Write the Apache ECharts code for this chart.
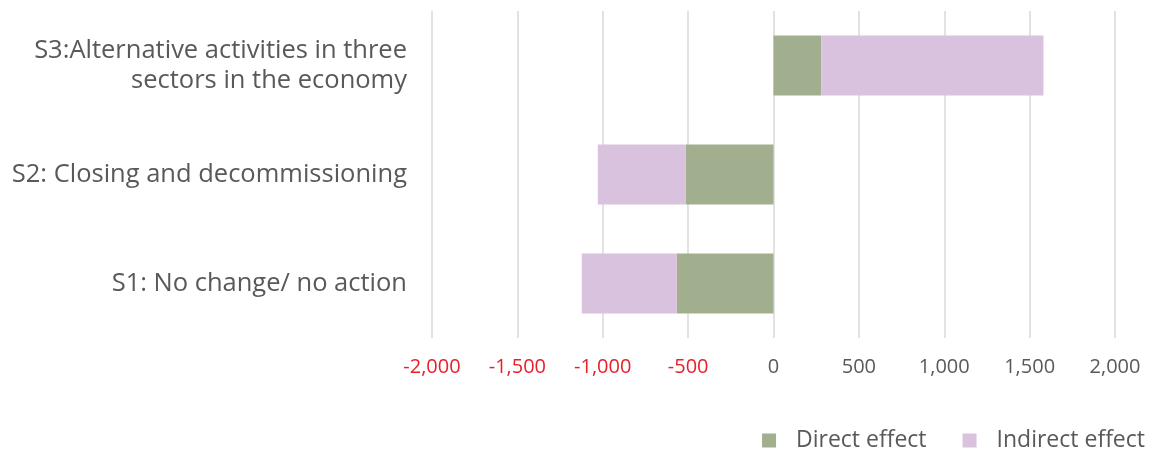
<!DOCTYPE html>
<html><head><meta charset="utf-8">
<script src="https://cdn.jsdelivr.net/npm/echarts@6/dist/echarts.min.js"></script>
<style>html,body{margin:0;padding:0;background:#fff}#c{width:1153px;height:450px}</style>
</head><body><div id="c"></div>
<script>
const categories = ["S1: No change/ no action", "S2: Closing and decommissioning", "S3:Alternative activities in three\nsectors in the economy"];
const directEffect = [-566, -513, 280];
const indirectEffect = [-557, -516, 1301];
const seriesNames = ["Direct effect", "Indirect effect"];
const xMin = -2000, xMax = 2000, xStep = 500;

const chart = echarts.init(document.getElementById('c'), null, {renderer: 'canvas'});
const font = "'Open Sans', 'Noto Sans', sans-serif";
chart.setOption({
  animation: false,
  textStyle: {fontFamily: font},
  grid: {left: 432, right: 38, top: 11, bottom: 112, containLabel: false},
  xAxis: {
    type: 'value', min: xMin, max: xMax, interval: xStep,
    axisLine: {show: false}, axisTick: {show: false},
    splitLine: {lineStyle: {color: '#d9d9d9', width: 1.5}},
    axisLabel: {
      margin: 19, fontSize: 20, fontFamily: font,
      formatter: v => v.toLocaleString('en-US'),
      color: v => (Number(v) < 0 ? '#e8202a' : '#595959')
    }
  },
  yAxis: {
    type: 'category', data: categories,
    axisLine: {show: false}, axisTick: {show: false},
    axisLabel: {margin: 25, fontSize: 25.5, color: '#595959', fontFamily: font, lineHeight: 30, align: 'right'}
  },
  legend: {
    right: 8, top: 429, padding: 0, itemWidth: 14, itemHeight: 14, itemGap: 36, icon: 'rect',
    textStyle: {fontSize: 23, color: '#595959', fontFamily: font, padding: [0,0,0,15]},
    data: seriesNames
  },
  series: [
    {name: seriesNames[0], type: 'bar', stack: 'total', data: directEffect, barWidth: 60, itemStyle: {color: '#a2af8f'}},
    {name: seriesNames[1], type: 'bar', stack: 'total', data: indirectEffect, barWidth: 60, itemStyle: {color: '#d9c2de'}}
  ]
});
</script></body></html>
